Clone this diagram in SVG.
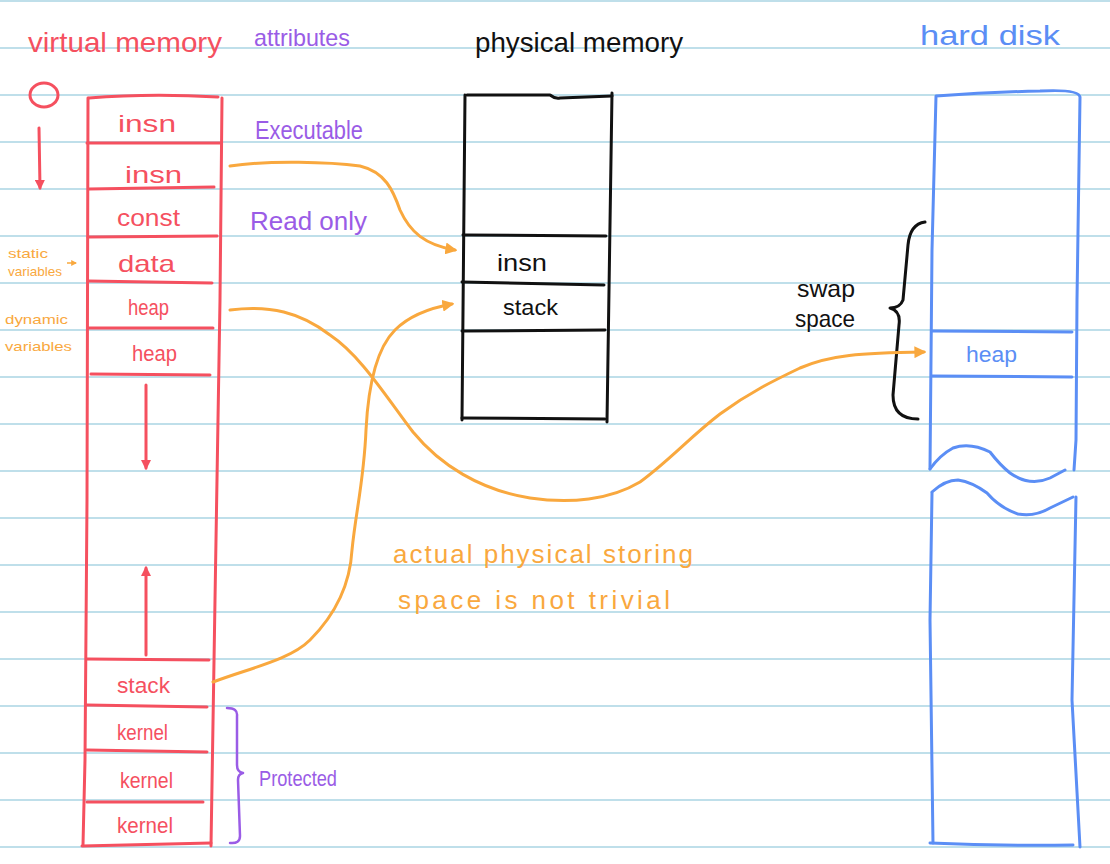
<svg xmlns="http://www.w3.org/2000/svg" width="1110" height="864" viewBox="0 0 1110 864">
  <defs>
    <style>
      .rule { stroke: #bfdfea; stroke-width: 2; }
      .red { stroke: #f5505f; fill: none; stroke-width: 3; stroke-linecap: round; stroke-linejoin: round; }
      .blk { stroke: #111; fill: none; stroke-width: 3; stroke-linecap: round; stroke-linejoin: round; }
      .blu { stroke: #5b8ef5; fill: none; stroke-width: 3; stroke-linecap: round; stroke-linejoin: round; }
      .pur { stroke: #9a5ce6; fill: none; stroke-width: 2.5; stroke-linecap: round; stroke-linejoin: round; }
      .org { stroke: #f9a83e; fill: none; stroke-width: 3; stroke-linecap: round; stroke-linejoin: round; }
      text { font-family: "Liberation Sans", Arial, sans-serif; }
      .tred { fill: #f5505f; }
      .tblk { fill: #111; }
      .tblu { fill: #5b8ef5; }
      .tpur { fill: #9a5ce6; }
      .torg { fill: #f9a83e; }
    </style>
    <marker id="ahO" viewBox="0 0 10 10" refX="8" refY="5" markerWidth="4" markerHeight="4" orient="auto" markerUnits="strokeWidth">
      <path d="M0,0 L10,5 L0,10 z" fill="#f9a83e"/>
    </marker>
    <marker id="ahR" viewBox="0 0 10 10" refX="8" refY="5" markerWidth="3.5" markerHeight="3.5" orient="auto" markerUnits="strokeWidth">
      <path d="M0,0 L10,5 L0,10 z" fill="#f5505f"/>
    </marker>
  </defs>

  <rect width="1110" height="864" fill="#ffffff"/>

  <g id="ruled-paper">
    <line class="rule" x1="0" y1="1" x2="1110" y2="1"/>
    <line class="rule" x1="0" y1="48" x2="1110" y2="48"/>
    <line class="rule" x1="0" y1="95" x2="1110" y2="95"/>
    <line class="rule" x1="0" y1="142" x2="1110" y2="142"/>
    <line class="rule" x1="0" y1="189" x2="1110" y2="189"/>
    <line class="rule" x1="0" y1="236" x2="1110" y2="236"/>
    <line class="rule" x1="0" y1="283" x2="1110" y2="283"/>
    <line class="rule" x1="0" y1="330" x2="1110" y2="330"/>
    <line class="rule" x1="0" y1="377" x2="1110" y2="377"/>
    <line class="rule" x1="0" y1="424" x2="1110" y2="424"/>
    <line class="rule" x1="0" y1="471" x2="1110" y2="471"/>
    <line class="rule" x1="0" y1="518" x2="1110" y2="518"/>
    <line class="rule" x1="0" y1="565" x2="1110" y2="565"/>
    <line class="rule" x1="0" y1="612" x2="1110" y2="612"/>
    <line class="rule" x1="0" y1="659" x2="1110" y2="659"/>
    <line class="rule" x1="0" y1="706" x2="1110" y2="706"/>
    <line class="rule" x1="0" y1="753" x2="1110" y2="753"/>
    <line class="rule" x1="0" y1="800" x2="1110" y2="800"/>
    <line class="rule" x1="0" y1="847" x2="1110" y2="847"/>
  </g>

  <g id="headers">
    <text class="tred" x="28" y="52" font-size="28" textLength="194" lengthAdjust="spacingAndGlyphs">virtual memory</text>
    <text class="tpur" x="254" y="46" font-size="24" textLength="96" lengthAdjust="spacingAndGlyphs">attributes</text>
    <text class="tblk" x="475" y="52" font-size="28" textLength="208" lengthAdjust="spacingAndGlyphs">physical memory</text>
    <text class="tblu" x="920" y="45" font-size="28" textLength="140" lengthAdjust="spacingAndGlyphs">hard disk</text>
  </g>

  <g id="address-direction">
    <ellipse class="red" cx="44" cy="95" rx="14" ry="12"/>
    <path class="red" d="M39,128 L40,188" marker-end="url(#ahR)"/>
  </g>

  <g id="side-notes">
    <text class="torg" x="8" y="258" font-size="13" textLength="40" lengthAdjust="spacingAndGlyphs">static</text>
    <text class="torg" x="8" y="276" font-size="13" textLength="54" lengthAdjust="spacingAndGlyphs">variables</text>
    <path d="M67,263 L76,263" stroke="#f9a83e" stroke-width="1.5" fill="none" marker-end="url(#ahO)"/>
    <text class="torg" x="5" y="324" font-size="13" textLength="63" lengthAdjust="spacingAndGlyphs">dynamic</text>
    <text class="torg" x="5" y="351" font-size="13" textLength="67" lengthAdjust="spacingAndGlyphs">variables</text>
  </g>

  <g id="virtual-memory">
    <path class="red" d="M89,98 Q150,93 218,97"/>
    <path class="red" d="M222,98 L220,300 L215,600 L211,846"/>
    <path class="red" d="M88,98 L87,500 L85,760 L83,845"/>
    <path class="red" d="M87,143 L220,143"/>
    <path class="red" d="M89,189 L214,187"/>
    <path class="red" d="M88,237 L217,236"/>
    <path class="red" d="M88,281 L212,283"/>
    <path class="red" d="M88,328 L213,328"/>
    <path class="red" d="M91,374 L210,375"/>
    <path class="red" d="M87,659 L209,660"/>
    <path class="red" d="M87,705 L207,707"/>
    <path class="red" d="M87,750 L207,752"/>
    <path class="red" d="M87,802 L203,802"/>
    <path class="red" d="M82,846 L211,843"/>
    <text class="tred" x="118" y="132" font-size="24" textLength="58" lengthAdjust="spacingAndGlyphs">insn</text>
    <text class="tred" x="125" y="183" font-size="24" textLength="57" lengthAdjust="spacingAndGlyphs">insn</text>
    <text class="tred" x="117" y="226" font-size="24" textLength="63" lengthAdjust="spacingAndGlyphs">const</text>
    <text class="tred" x="118" y="272" font-size="24" textLength="57" lengthAdjust="spacingAndGlyphs">data</text>
    <text class="tred" x="128" y="315" font-size="22" textLength="41" lengthAdjust="spacingAndGlyphs">heap</text>
    <text class="tred" x="132" y="361" font-size="22" textLength="45" lengthAdjust="spacingAndGlyphs">heap</text>
    <text class="tred" x="117" y="693" font-size="22" textLength="53" lengthAdjust="spacingAndGlyphs">stack</text>
    <text class="tred" x="117" y="740" font-size="22" textLength="51" lengthAdjust="spacingAndGlyphs">kernel</text>
    <text class="tred" x="120" y="788" font-size="22" textLength="53" lengthAdjust="spacingAndGlyphs">kernel</text>
    <text class="tred" x="117" y="833" font-size="22" textLength="56" lengthAdjust="spacingAndGlyphs">kernel</text>
    <path class="red" d="M146,385 L146,468" marker-end="url(#ahR)"/>
    <path class="red" d="M146,655 L146,568" marker-end="url(#ahR)"/>
  </g>

  <g id="attributes">
    <text class="tpur" x="255" y="139" font-size="26" textLength="108" lengthAdjust="spacingAndGlyphs">Executable</text>
    <text class="tpur" x="250" y="230" font-size="26" textLength="117" lengthAdjust="spacingAndGlyphs">Read only</text>
    <path class="pur" d="M227,708 Q238,708 237,716 L237,765 Q237,772 243,773 Q238,774 238,780 L240,836 Q240,844 230,843"/>
    <text class="tpur" x="259" y="786" font-size="22" textLength="78" lengthAdjust="spacingAndGlyphs">Protected</text>
  </g>

  <g id="physical-memory">
    <path class="blk" d="M467,95 L550,95 Q555,99 560,98 L612,96"/>
    <path class="blk" d="M465,95 L462,420"/>
    <path class="blk" d="M612,93 L607,422"/>
    <path class="blk" d="M462,418 L605,419"/>
    <path class="blk" d="M463,235 L606,236"/>
    <path class="blk" d="M462,282 L604,285"/>
    <path class="blk" d="M462,331 L605,330"/>
    <text class="tblk" x="497" y="271" font-size="24" textLength="50" lengthAdjust="spacingAndGlyphs">insn</text>
    <text class="tblk" x="503" y="315" font-size="22" textLength="55" lengthAdjust="spacingAndGlyphs">stack</text>
  </g>

  <g id="hard-disk">
    <path class="blu" d="M930,469 L932,250 L936,96 Q990,92 1040,91 Q1079,89 1080,97 L1077,300 L1076,440 L1074,470"/>
    <path class="blu" d="M930,469 Q940,455 953,448 Q970,442 990,452 Q1000,465 1010,473 Q1030,487 1050,478 L1065,470"/>
    <path class="blu" d="M932,331 L1072,332"/>
    <path class="blu" d="M932,376 L1072,377"/>
    <text class="tblu" x="966" y="362" font-size="22" textLength="51" lengthAdjust="spacingAndGlyphs">heap</text>
    <path class="blu" d="M932,492 Q945,480 958,480 Q972,482 987,493 Q1000,508 1018,514 Q1035,517 1050,508 L1073,497"/>
    <path class="blu" d="M932,493 L930,620 L933,843"/>
    <path class="blu" d="M1076,497 L1072,700 L1080,847"/>
    <path class="blu" d="M930,843 Q1000,846 1073,845"/>
  </g>

  <g id="swap-space">
    <path class="blk" d="M925,222 Q910,224 908,245 L903,300 Q900,308 890,308 Q901,311 899,325 L893,395 Q893,419 918,419"/>
    <text class="tblk" x="797" y="297" font-size="24" textLength="58" lengthAdjust="spacingAndGlyphs">swap</text>
    <text class="tblk" x="795" y="327" font-size="24" textLength="60" lengthAdjust="spacingAndGlyphs">space</text>
  </g>

  <g id="note">
    <text class="torg" x="393" y="563" font-size="26" textLength="300" lengthAdjust="spacing">actual physical storing</text>
    <text class="torg" x="398" y="609" font-size="26" textLength="272" lengthAdjust="spacing">space is not trivial</text>
  </g>

  <g id="connectors">
    <path class="org" d="M230,166 C270,160 330,162 360,166 C385,172 393,190 400,210 C410,232 425,245 455,250" marker-end="url(#ahO)"/>
    <path class="org" d="M213,682 C250,668 290,660 310,640 C335,615 350,585 352,550 C356,510 364,480 366,430 C368,390 375,350 395,330 C410,315 430,308 452,304" marker-end="url(#ahO)"/>
    <path class="org" d="M230,310 C270,305 300,312 330,335 C360,355 385,395 413,432 C440,465 480,490 530,498 C570,504 610,500 640,482 C670,460 690,437 720,414 C750,392 775,380 800,368 C830,355 860,353 924,352" marker-end="url(#ahO)"/>
  </g>
</svg>
